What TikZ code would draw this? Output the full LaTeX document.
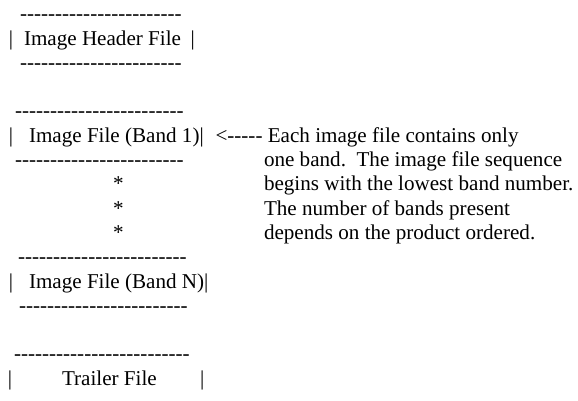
\documentclass[tikz,border=0pt]{standalone}
\usepackage{fontspec}
\newfontfamily\plainserif{Liberation Serif}[Ligatures=NoCommon]
\newcommand\dashrow[1]{\foreach \n in {1,...,#1}{-}}
\def\rowsep{24.3pt}
\def\notex{264pt}
\frenchspacing

\begin{document}
\begin{tikzpicture}[
    line/.style={
      anchor=base west, inner sep=0pt, outer sep=0pt,
      font=\plainserif\fontsize{21.1}{24.3}\selectfont
    }
  ]
    \useasboundingbox (0pt,20.7pt) rectangle (578pt,-379.3pt);

    \node[line] (HeadTop) at (20pt, 0*\rowsep) {\dashrow{23}};
    \node[line] (HeadL) at (9pt,-1*\rowsep) {|};
    \node[line] (Head) at (24pt,-1*\rowsep) {Image Header File};
    \node[line] (HeadR) at (190.6pt,-1*\rowsep) {|};
    \node[line] (HeadBot) at (20pt,-2*\rowsep) {\dashrow{23}};

    \node[line] (BandOneTop) at (15pt,-4*\rowsep) {\dashrow{24}};
    \node[line] (BandOneL) at (9pt,-5*\rowsep) {|};
    \node[line] (BandOne) at (29pt,-5*\rowsep) {Image File (Band 1)|};
    \node[line] (BandOneBot) at (15pt,-6*\rowsep) {\dashrow{24}};

    \node[line] (NoteA) at (215.5pt,-5*\rowsep) {<----- Each image file contains only};
    \node[line] (NoteB) at (\notex,-6*\rowsep) {one band.~~The image file sequence};
    \node[line] (NoteC) at (\notex,-7*\rowsep) {begins with the lowest band number.};
    \node[line] (NoteD) at (\notex,-8*\rowsep) {The number of bands present};
    \node[line] (NoteE) at (\notex,-9*\rowsep) {depends on the product ordered.};

    \foreach \k in {7,8,9}
      \node[line] (Star\k) at (113pt,-\k*\rowsep) {*};

    \node[line] (BandNTop) at (18pt,-10*\rowsep) {\dashrow{24}};
    \node[line] (BandNL) at (9pt,-11*\rowsep) {|};
    \node[line] (BandN) at (29pt,-11*\rowsep) {Image File (Band N)|};
    \node[line] (BandNBot) at (19pt,-12*\rowsep) {\dashrow{24}};

    \node[line] (TrailTop) at (14pt,-14*\rowsep) {\dashrow{25}};
    \node[line] (TrailL) at (8pt,-15*\rowsep) {|};
    \node[line] (Trail) at (62pt,-15*\rowsep) {Trailer File};
    \node[line] (TrailR) at (200pt,-15*\rowsep) {|};
  \end{tikzpicture}
\end{document}
